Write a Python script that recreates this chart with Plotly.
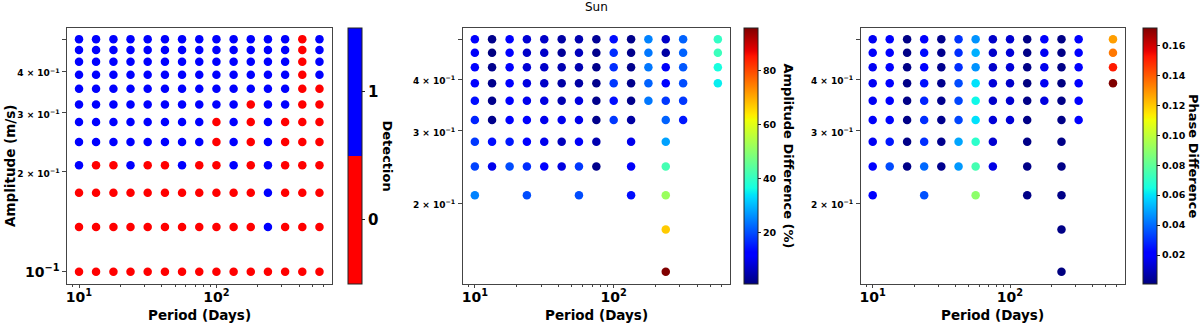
import plotly.graph_objects as go
from plotly.subplots import make_subplots

# grid of injected signals
period = [10.0, 13.3, 17.8, 23.7, 31.6, 42.2, 56.2, 75.0, 100.0, 133.4, 177.8, 237.1, 316.2, 421.7, 562.3]
amplitude = [0.5, 0.4636, 0.4273, 0.3909, 0.3545, 0.3182, 0.2818, 0.2455, 0.2091, 0.1727, 0.1364, 0.1]

# rows follow amplitude (top to bottom), columns follow period
detection = [
    [1, 1, 1, 1, 1, 1, 1, 1, 1, 1, 1, 1, 1, 0, 1],
    [1, 1, 1, 1, 1, 1, 1, 1, 1, 1, 1, 1, 1, 0, 1],
    [1, 1, 1, 1, 1, 1, 1, 1, 1, 1, 1, 1, 1, 0, 1],
    [1, 1, 1, 1, 1, 1, 1, 1, 1, 1, 1, 1, 1, 0, 1],
    [1, 1, 1, 1, 1, 1, 1, 1, 1, 1, 1, 1, 1, 0, 0],
    [1, 1, 1, 1, 1, 1, 1, 1, 1, 1, 0, 1, 1, 0, 0],
    [1, 1, 1, 1, 1, 1, 1, 1, 0, 1, 0, 1, 0, 0, 0],
    [1, 1, 1, 1, 1, 1, 1, 1, 0, 1, 0, 1, 0, 0, 0],
    [1, 0, 0, 1, 0, 0, 1, 0, 0, 1, 0, 1, 0, 0, 0],
    [0, 0, 0, 0, 0, 0, 0, 0, 0, 0, 0, 1, 0, 0, 0],
    [0, 0, 0, 0, 0, 0, 0, 0, 0, 0, 0, 1, 0, 0, 0],
    [0, 0, 0, 0, 0, 0, 0, 0, 0, 0, 0, 0, 0, 0, 0],
]

N = None
amp_diff = [
    [12, 2, 12, 8, 7, 4, 5, 3, 14, 2, 25, 7, 22, N, 40],
    [11, 1, 12, 7, 7, 3, 6, 2, 17, 2, 24, 4, 22, N, 41],
    [12, 2, 12, 8, 7, 5, 5, 2, 17, 2, 24, 11, 21, N, 37],
    [12, 2, 12, 9, 7, 4, 4, 2, 18, 2, 22, 13, 20, N, 35],
    [14, 2, 12, 10, 9, 5, 9, 2, 14, 2, 24, 18, 18, N, N],
    [16, 2, 13, 12, 10, 10, 10, 2, 18, 4, N, 22, 15, N, N],
    [18, 14, 15, 12, 10, 6, 11, 5, N, 10, N, 28, N, N, N],
    [19, 10, 20, 17, 12, 9, 18, 2, N, 11, N, 42, N, N, N],
    [25, N, N, 20, N, N, 20, N, N, 14, N, 52, N, N, N],
    [N, N, N, N, N, N, N, N, N, N, N, 67, N, N, N],
    [N, N, N, N, N, N, N, N, N, N, N, 96, N, N, N],
    [N, N, N, N, N, N, N, N, N, N, N, N, N, N, N],
]

phase_diff = [
    [.018, .020, .002, .021, .003, .031, .047, .012, .013, .002, .020, .002, .021, N, .128],
    [.019, .020, .002, .024, .003, .030, .052, .012, .014, .002, .018, .002, .021, N, .135],
    [.018, .020, .002, .022, .003, .030, .047, .012, .014, .002, .017, .002, .020, N, .152],
    [.018, .020, .002, .025, .003, .035, .060, .014, .012, .001, .018, .001, .021, N, .172],
    [.018, .022, .002, .028, .003, .034, .064, .012, .013, .002, .015, .002, .021, N, N],
    [.019, .023, .002, .030, .003, .034, .060, .014, .014, .002, N, .002, .021, N, N],
    [.018, .026, .002, .030, .003, .050, .070, .013, N, .002, N, .002, N, N, N],
    [.020, .035, .002, .040, .003, .048, .075, .016, N, .002, N, .002, N, N, N],
    [.020, N, N, .036, N, N, .090, N, N, .002, N, .002, N, N, N],
    [N, N, N, N, N, N, N, N, N, N, N, .002, N, N, N],
    [N, N, N, N, N, N, N, N, N, N, N, .001, N, N, N],
    [N, N, N, N, N, N, N, N, N, N, N, N, N, N, N],
]

# matplotlib "jet"
jet = [
    [0.0, "rgb(0,0,128)"], [0.11, "rgb(0,0,255)"], [0.125, "rgb(0,0,255)"],
    [0.34, "rgb(0,219,255)"], [0.35, "rgb(0,230,247)"], [0.375, "rgb(21,255,226)"],
    [0.64, "rgb(239,255,8)"], [0.65, "rgb(247,245,0)"], [0.66, "rgb(255,236,0)"],
    [0.89, "rgb(255,19,0)"], [0.91, "rgb(232,0,0)"], [1.0, "rgb(128,0,0)"],
]
red_blue = [[0, "red"], [0.5, "red"], [0.5, "blue"], [1, "blue"]]


def cells(grid):
    xs, ys, vs = [], [], []
    for i, a in enumerate(amplitude):
        for j, p in enumerate(period):
            if grid[i][j] is not None:
                xs.append(p)
                ys.append(a)
                vs.append(grid[i][j])
    return xs, ys, vs


W, H = 1200, 324
FONT = "DejaVu Sans"
top, bottom = 27.5, 283.5
panels = [(67, 331.5), (462.7, 730), (860.7, 1125)]
cbar_x = [348, 744, 1142.7]
cbar_title_x = [387, 788, 1193.5]

fig = make_subplots(rows=1, cols=3)

titles = ["Detection", "Amplitude Difference (%)", "Phase Difference"]
grids = [detection, amp_diff, phase_diff]
for k in range(3):
    xs, ys, vs = cells(grids[k])
    cb = dict(
        x=cbar_x[k] / W, xanchor="left", y=1 - (top + bottom) / 2 / H, yanchor="middle",
        len=(bottom - top) / H, thickness=14, xpad=0, ypad=0,
        outlinewidth=1, outlinecolor="#222",
        ticks="outside", ticklen=3, tickcolor="#222",
        tickfont=dict(family=FONT, size=9.5, weight="bold", color="black"),
    )
    marker = dict(size=8.5, color=vs, line=dict(width=0))
    if k == 0:
        cb.update(tickvals=[0, 1], tickfont=dict(family=FONT, size=15, weight="bold", color="black"))
        marker.update(colorscale=red_blue, cmin=-0.5, cmax=1.5, colorbar=cb)
    elif k == 1:
        cb.update(tickvals=[20, 40, 60, 80])
        marker.update(colorscale=jet, colorbar=cb)
    else:
        cb.update(tickvals=[0.02, 0.04, 0.06, 0.08, 0.10, 0.12, 0.14, 0.16], tickformat=".2f")
        marker.update(colorscale=jet, colorbar=cb)
    fig.add_trace(go.Scatter(x=xs, y=ys, mode="markers", marker=marker, showlegend=False),
                  row=1, col=k + 1)
    # colorbar label, reading top to bottom as in matplotlib
    fig.add_annotation(text=titles[k], xref="paper", yref="paper",
                       x=cbar_title_x[k] / W, y=1 - (top + bottom) / 2 / H,
                       xanchor="center", yanchor="middle", textangle=90, showarrow=False,
                       font=dict(family=FONT, size=13, weight="bold", color="black"))
    # x axis label
    fig.add_annotation(text="Period (Days)", xref="paper", yref="paper",
                       x=(panels[k][0] + panels[k][1]) / 2 / W, y=1 - 315 / H,
                       xanchor="center", yanchor="middle", showarrow=False,
                       font=dict(family=FONT, size=13.5, weight="bold", color="black"))

small = "<span style='font-size:9px'>%s × 10<sup>−1</sup></span>"
ytext_full = ["10<sup>−1</sup>", small % 2, small % 3, small % 4, ""]
axis_common = dict(
    type="log", showgrid=False, zeroline=False, showline=True, mirror=True,
    linecolor="#444", linewidth=1.3, ticks="outside", ticklen=3.5, tickcolor="#444",
    tickfont=dict(family=FONT, size=14, weight="bold", color="black"), automargin=False,
)
for k in range(3):
    x0, x1 = panels[k]
    fig.update_xaxes(
        axis_common, domain=[x0 / W, x1 / W], range=[0.9125, 2.8375],
        tickmode="array", tickvals=[10, 100], ticktext=["10<sup>1</sup>", "10<sup>2</sup>"],
        ticklabelstandoff=-3,
        minor=dict(tickmode="array", tickvals=[9, 20, 30, 40, 50, 60, 70, 80, 90,
                                               200, 300, 400, 500, 600],
                   ticks="outside", ticklen=2, tickcolor="#444"),
        row=1, col=k + 1,
    )
    yr = [-1.035, -0.2661] if k == 0 else [-0.8935, -0.2728]
    fig.update_yaxes(
        axis_common, domain=[1 - bottom / H, 1 - top / H], range=yr,
        tickmode="array", tickvals=[0.1, 0.2, 0.3, 0.4, 0.5], ticktext=ytext_full,
        row=1, col=k + 1,
    )

fig.add_annotation(text="Amplitude (m/s)", xref="paper", yref="paper",
                   x=10 / W, y=1 - 166 / H, xanchor="center", yanchor="middle",
                   textangle=-90, showarrow=False,
                   font=dict(family=FONT, size=13.5, weight="bold", color="black"))

fig.add_annotation(text="Sun", xref="paper", yref="paper",
                   x=(panels[1][0] + panels[1][1]) / 2 / W, y=1 - 7.5 / H,
                   xanchor="center", yanchor="middle", showarrow=False,
                   font=dict(family=FONT, size=12, color="black"))

fig.update_layout(width=W, height=H, margin=dict(l=0, r=0, t=0, b=0, autoexpand=False),
                  plot_bgcolor="white", paper_bgcolor="white")

# drop the page's default body margin so the figure sits at the window's corner
fig.write_html("out.html", config={"displayModeBar": False},
               post_script="document.body.style.margin='0';")
